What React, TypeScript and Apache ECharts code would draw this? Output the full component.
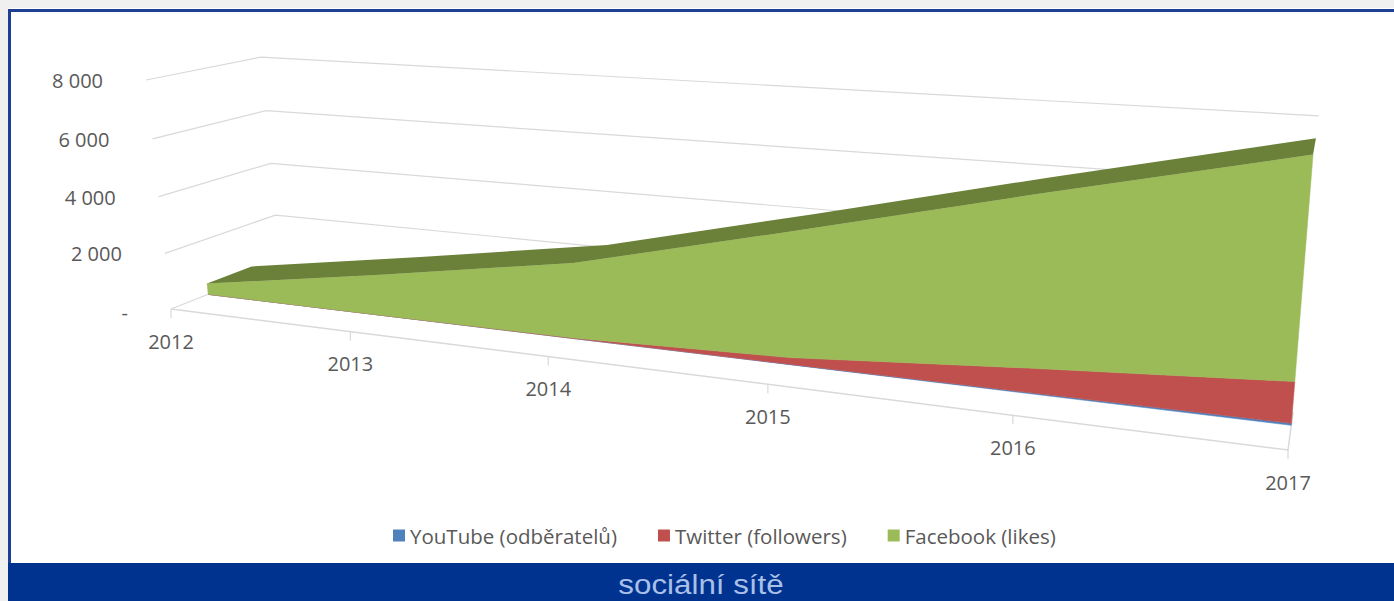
import React, { useEffect, useRef } from "react";
import * as echarts from "echarts";

const years = ["2012", "2013", "2014", "2015", "2016", "2017"];
const youtube = [0, 0, 0, 10, 30, 60];
const twitter = [0, 0, 20, 220, 750, 1220];
const facebook = [400, 1450, 2540, 4010, 5190, 6350];
const valueTicks = [0, 2000, 4000, 6000, 8000];
const valueTickLabels = ["-", "2 000", "4 000", "6 000", "8 000"];

const GREY = "#595959";
const GRID_LINE = "#d9d9d9";
const BLUE = "#4F81BD";
const RED = "#C0504D";
const GREEN = "#9BBB59";
const GREEN_TOP = "#6B8139";
const FONT = "'Open Sans', Lato, sans-serif";

const GRID = { left: 100, top: 100, width: 1000, height: 400 };

// perspective box: floor front-left, floor front-right, floor back-left, wall top-left
const O = [171, 309];
const X = [1288, 450];
const V = [280, 266];
const H = [146, 80];
const W1 = -0.235;
const W2 = 0.1;
const W3 = -0.037;
const V_FRONT = 0.32;
const V_BACK = 0.73;

function project(u: number, v: number, h: number): number[] {
  const d = 1 + W1 * u + W2 * v + W3 * h;
  const p = [0, 1].map((k) => {
    const ax = X[k] * (1 + W1) - O[k];
    const av = V[k] * (1 + W2) - O[k];
    const ah = H[k] * (1 + W3) - O[k];
    return (O[k] + ax * u + av * v + ah * h) / d;
  });
  return p;
}

// library scale -> unit box coordinates -> screen
function place(api: any, index: number, value: number, v: number): number[] {
  const c = api.coord([index, value]);
  const u = (c[0] - GRID.left) / GRID.width;
  const h = (GRID.top + GRID.height - c[1]) / GRID.height;
  return project(u, v, h);
}

function stackTotals(lists: number[][]): number[] {
  return years.map((_, i) => lists.reduce((s, l) => s + l[i], 0));
}

const lower = { y: years.map(() => 0), t: youtube, f: stackTotals([youtube, twitter]) };
const upper = { y: youtube, t: stackTotals([youtube, twitter]), f: stackTotals([youtube, twitter, facebook]) };

function band(low: number[], up: number[], fill: string, withTop: boolean) {
  return (params: any, api: any) => {
    if (params.dataIndex !== 0) return null;
    const n = years.length;
    const front: number[][] = [];
    for (let i = 0; i < n; i++) front.push(place(api, i, up[i], V_FRONT));
    for (let i = n - 1; i >= 0; i--) front.push(place(api, i, low[i], V_FRONT));
    const children: any[] = [
      { type: "polygon", shape: { points: front }, style: { fill, stroke: fill, lineWidth: 0.5 } },
    ];
    if (withTop) {
      const top: number[][] = [];
      for (let i = 0; i < n; i++) top.push(place(api, i, up[i], V_FRONT));
      for (let i = n - 1; i >= 0; i--) top.push(place(api, i, up[i], V_BACK));
      children.push({ type: "polygon", shape: { points: top }, style: { fill: GREEN_TOP } });
    }
    return { type: "group", children };
  };
}

function gridLineItem(params: any, api: any) {
  const t = valueTicks[params.dataIndex];
  const a = place(api, 0, t, 0);
  const b = place(api, 0, t, 1);
  const full = place(api, years.length - 1, t, 1);
  // the lower wall lines end behind the area, as they do in the reference
  const reach = params.dataIndex === valueTicks.length - 1 ? 1 : 0.97;
  const c = [b[0] + (full[0] - b[0]) * reach, b[1] + (full[1] - b[1]) * reach];
  return {
    type: "group",
    children: [
      {
        type: "polyline",
        shape: { points: [a, b, c] },
        style: { stroke: GRID_LINE, lineWidth: 1.2, fill: "none" },
      },
      {
        type: "text",
        style: {
          text: valueTickLabels[params.dataIndex],
          x: a[0] - 43,
          y: a[1] + (t === 0 ? 3 : 0.5),
          align: "right",
          verticalAlign: "middle",
          fill: GREY,
          fontSize: 20,
          fontFamily: FONT,
        },
      },
    ],
  };
}

function xTickItem(params: any, api: any) {
  const i = params.dataIndex;
  const a = place(api, i, 0, 0);
  const children: any[] = [
    {
      type: "line",
      shape: { x1: a[0], y1: a[1], x2: a[0], y2: a[1] + 9 },
      style: { stroke: GRID_LINE, lineWidth: 1.2 },
    },
    {
      type: "text",
      style: {
        text: years[i],
        x: a[0],
        y: a[1] + 32,
        align: "center",
        verticalAlign: "middle",
        fill: GREY,
        fontSize: 20,
        fontFamily: FONT,
      },
    },
  ];
  if (i === 0) {
    const last = years.length - 1;
    children.push({
      type: "polyline",
      shape: { points: [a, place(api, last, 0, 0), place(api, last, 0, 0.5)] },
      style: { stroke: GRID_LINE, lineWidth: 1.5, fill: "none" },
    });
  }
  return { type: "group", children };
}

export default function App() {
  const ref = useRef<HTMLDivElement>(null);
  useEffect(() => {
    document.body.style.margin = "0";
    document.body.style.overflow = "hidden";
    const chart = echarts.init(ref.current!, null, { renderer: "svg" });
    const points = years.map((y, i) => [i, 0]);
    chart.setOption({
      animation: false,
      backgroundColor: "#ffffff",
      grid: { ...GRID },
      xAxis: { type: "category", data: years, boundaryGap: false, show: false },
      yAxis: { type: "value", min: 0, max: 8000, interval: 2000, show: false },
      legend: {
        left: 388,
        top: 520,
        itemWidth: 12,
        itemHeight: 12,
        itemGap: 41,
        icon: "rect",
        data: ["YouTube (odběratelů)", "Twitter (followers)", "Facebook (likes)"],
        textStyle: { color: GREY, fontSize: 20.5, fontFamily: FONT, padding: [0, 0, 0, 0] },
      },
      graphic: [
        { type: "rect", z: 0, shape: { x: 0, y: 0, width: 1394, height: 8 }, style: { fill: "#f0f0f0" } },
        { type: "rect", z: 0, shape: { x: 0, y: 0, width: 8, height: 601 }, style: { fill: "#f0f0f0" } },
        { type: "rect", z: 1, shape: { x: 8, y: 9, width: 1386, height: 3 }, style: { fill: "#1f3f94" } },
        { type: "rect", z: 1, shape: { x: 8, y: 9, width: 3, height: 556 }, style: { fill: "#1f3f94" } },
        { type: "rect", z: 1, shape: { x: 8, y: 563, width: 1386, height: 38 }, style: { fill: "#00338f" } },
        {
          type: "text",
          z: 2,
          x: 701,
          y: 585,
          scaleX: 1.16,
          style: {
            text: "sociální sítě",
            x: 0,
            y: 0,
            align: "center",
            verticalAlign: "middle",
            fill: "#a9c0e8",
            fontSize: 27,
            fontFamily: "'Liberation Sans', Arial, sans-serif",
          },
        },
      ],
      series: [
        { type: "custom", name: "grid", silent: true, z: 1, data: valueTicks.map((t) => [0, t]), renderItem: gridLineItem },
        { type: "custom", name: "ticks", silent: true, z: 1, data: points, renderItem: xTickItem },
        { type: "custom", name: "YouTube (odběratelů)", z: 2, itemStyle: { color: BLUE }, data: points, renderItem: band(lower.y, upper.y, BLUE, false) },
        { type: "custom", name: "Twitter (followers)", z: 3, itemStyle: { color: RED }, data: points, renderItem: band(lower.t, upper.t, RED, false) },
        { type: "custom", name: "Facebook (likes)", z: 4, itemStyle: { color: GREEN }, data: points, renderItem: band(lower.f, upper.f, GREEN, true) },
      ],
    });
    return () => chart.dispose();
  }, []);
  return <div ref={ref} style={{ position: "absolute", left: 0, top: 0, width: 1394, height: 601 }} />;
}
